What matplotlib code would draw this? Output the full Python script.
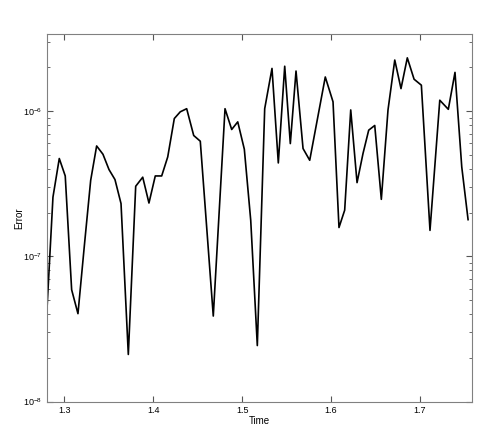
import matplotlib
matplotlib.use("Agg")
import matplotlib.pyplot as plt
from matplotlib.ticker import LogLocator, NullFormatter

plt.rcParams['font.family'] = ['Liberation Sans', 'DejaVu Sans']

time = [1.2803, 1.2874, 1.2945, 1.3012, 1.3084, 1.3155, 1.3226, 1.3298,
        1.3365, 1.3436, 1.3504, 1.3571, 1.3639, 1.3721, 1.3804, 1.3883,
        1.3953, 1.4024, 1.4096, 1.4164, 1.4238, 1.4305, 1.4377, 1.4456,
        1.4530, 1.4676, 1.4808, 1.4883, 1.4951, 1.5025, 1.5097, 1.5171,
        1.5254, 1.5336, 1.5407, 1.5479, 1.5542, 1.5606, 1.5685, 1.5760,
        1.5935, 1.6022, 1.6089, 1.6153, 1.6221, 1.6292, 1.6359, 1.6423,
        1.6491, 1.6565, 1.6640, 1.6716, 1.6786, 1.6857, 1.6933, 1.7015,
        1.7112, 1.7222, 1.7318, 1.7393, 1.7469, 1.7540]
error = [3.92e-8, 2.56e-7, 4.72e-7, 3.58e-7, 5.89e-8, 4.03e-8, 1.17e-7, 3.34e-7,
         5.76e-7, 5.05e-7, 3.96e-7, 3.38e-7, 2.31e-7, 2.11e-8, 3.04e-7, 3.51e-7,
         2.33e-7, 3.58e-7, 3.58e-7, 4.84e-7, 8.90e-7, 9.90e-7, 1.04e-6, 6.80e-7,
         6.21e-7, 3.88e-8, 1.04e-6, 7.48e-7, 8.44e-7, 5.47e-7, 1.77e-7, 2.43e-8,
         1.04e-6, 1.97e-6, 4.40e-7, 2.04e-6, 5.98e-7, 1.89e-6, 5.53e-7, 4.59e-7,
         1.72e-6, 1.16e-6, 1.58e-7, 2.08e-7, 1.02e-6, 3.22e-7, 5.11e-7, 7.40e-7,
         7.97e-7, 2.47e-7, 1.02e-6, 2.25e-6, 1.43e-6, 2.33e-6, 1.66e-6, 1.51e-6,
         1.51e-7, 1.19e-6, 1.03e-6, 1.85e-6, 4.13e-7, 1.79e-7]
xticks = [1.3, 1.4, 1.5, 1.6, 1.7]

fig = plt.figure(figsize=(4.91, 4.36), dpi=100)
ax = fig.add_axes([0.095, 0.079, 0.867, 0.843])
ax.plot(time, error, color='black', linewidth=1.2)
ax.set_yscale('log')
ax.set_xlim(1.2803, 1.7588)
ax.set_ylim(1e-8, 3.4e-6)
ax.set_xticks(xticks)
ax.set_xticklabels([str(t) for t in xticks])
ax.yaxis.set_major_locator(LogLocator(base=10, numticks=10))
ax.yaxis.set_minor_locator(LogLocator(base=10, subs=range(2, 10), numticks=20))
ax.yaxis.set_minor_formatter(NullFormatter())
ax.tick_params(which='both', direction='in', top=True, right=True,
               labelsize=6.5, colors='#555555', labelcolor='black', pad=3)
ax.tick_params(which='major', length=4)
ax.tick_params(which='minor', length=2.5)
for s in ax.spines.values():
    s.set_color('#808080')
ax.set_xlabel('Time', fontsize=7, labelpad=1)
ax.set_ylabel('Error', fontsize=7)
ax.yaxis.set_label_coords(-0.052, 0.5)

fig.savefig('out.png', dpi=100)
